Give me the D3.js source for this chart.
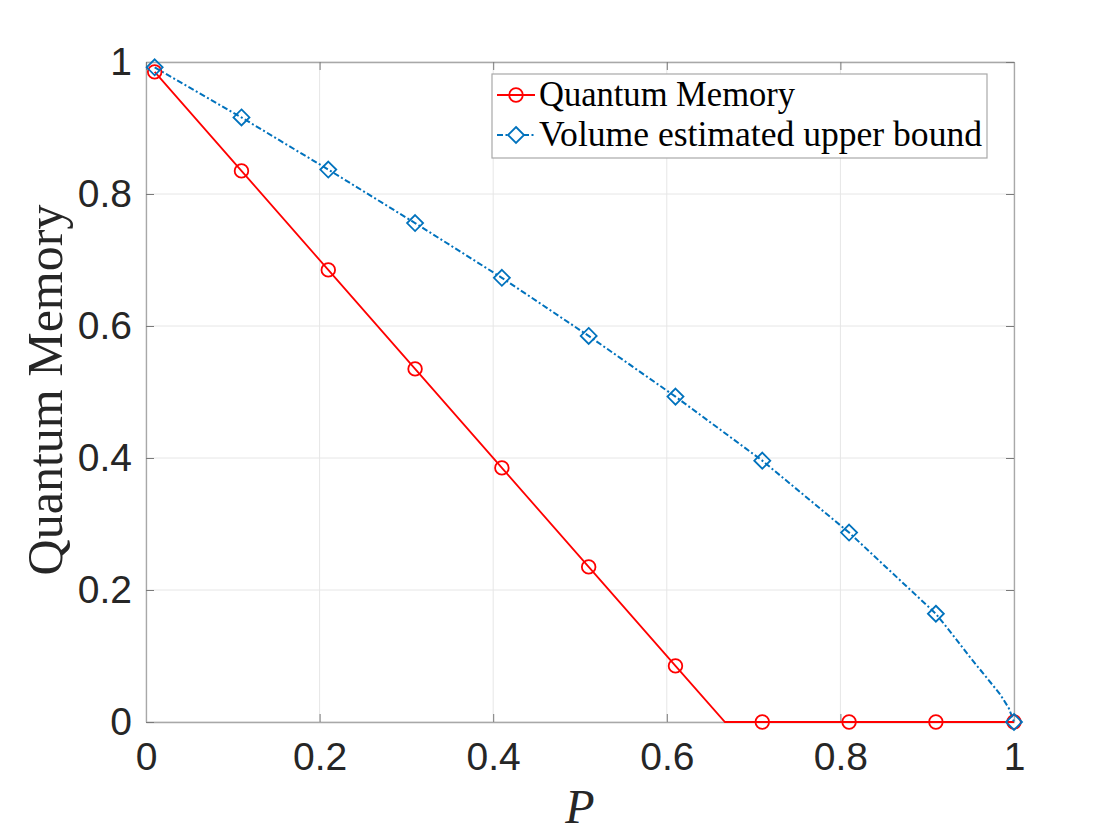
<!DOCTYPE html>
<html>
<head>
<meta charset="utf-8">
<script src="https://cdn.jsdelivr.net/npm/d3@7"></script>
<style>
  body { margin: 0; background: #fff; }
</style>
</head>
<body>
<div id="canvas"></div>
<script>
// tick values
const xTicks = [0, 0.2, 0.4, 0.6, 0.8, 1];
const yTicks = [0, 0.2, 0.4, 0.6, 0.8, 1];

// Quantum Memory (red) - markers
const qmMarkerP = [0.01, 0.11, 0.21, 0.31, 0.41, 0.51, 0.61, 0.71, 0.81, 0.91, 1.0];
const qmMarkerVal = [0.985, 0.835, 0.685, 0.535, 0.385, 0.235, 0.085, 0, 0, 0, 0];
// Quantum Memory line (includes the kink where it hits zero)
const qmLineP = [0.01, 0.11, 0.21, 0.31, 0.41, 0.51, 0.61, 0.667, 0.71, 0.81, 0.91, 1.0];
const qmLineVal = [0.985, 0.835, 0.685, 0.535, 0.385, 0.235, 0.085, 0, 0, 0, 0, 0];

// Volume estimated upper bound (blue) - markers
const ubMarkerP = [0.01, 0.11, 0.21, 0.31, 0.41, 0.51, 0.61, 0.71, 0.81, 0.91, 1.0];
const ubMarkerVal = [0.992, 0.916, 0.837, 0.756, 0.673, 0.585, 0.493, 0.396, 0.287, 0.164, 0];
// line, with extra points read along the curved tail
const ubLineP = [0.01, 0.11, 0.21, 0.31, 0.41, 0.51, 0.61, 0.71, 0.81, 0.91, 0.93, 0.95, 0.968, 0.984, 0.994, 1.0];
const ubLineVal = [0.992, 0.916, 0.837, 0.756, 0.673, 0.585, 0.493, 0.396, 0.287, 0.164, 0.131, 0.097, 0.068, 0.042, 0.021, 0];

const legendLabels = ["Quantum Memory", "Volume estimated upper bound"];

const width = 1120;
const height = 840;
const margin = { top: 62, left: 146, bottom: 118, right: 106 };
const iwidth = width - margin.left - margin.right;
const iheight = height - margin.top - margin.bottom;

const svg = d3.select("#canvas").append("svg")
    .attr("width", width)
    .attr("height", height);

const g = svg.append("g").attr("transform", `translate(${margin.left},${margin.top})`);

const x = d3.scaleLinear().domain([0, 1]).range([0, iwidth]);
const y = d3.scaleLinear().domain([0, 1]).range([iheight, 0]);

// grid
g.selectAll(".xgrid").data(xTicks).enter().append("line")
    .attr("x1", d => x(d)).attr("x2", d => x(d))
    .attr("y1", 0).attr("y2", iheight)
    .attr("stroke", "#e6e6e6").attr("stroke-width", 1);
g.selectAll(".ygrid").data(yTicks).enter().append("line")
    .attr("y1", d => y(d)).attr("y2", d => y(d))
    .attr("x1", 0).attr("x2", iwidth)
    .attr("stroke", "#e6e6e6").attr("stroke-width", 1);

// axes with inward ticks
const tickFont = "'Liberation Sans', Arial, sans-serif";

const xAxis = g.append("g")
    .attr("transform", `translate(0,${iheight})`)
    .call(d3.axisBottom(x).tickValues(xTicks).tickSizeInner(-8).tickSizeOuter(0)
        .tickFormat(d3.format("~g")).tickPadding(20));
const yAxis = g.append("g")
    .call(d3.axisLeft(y).tickValues(yTicks).tickSizeInner(-8).tickSizeOuter(0)
        .tickFormat(d3.format("~g")).tickPadding(14));
const xTop = g.append("g")
    .call(d3.axisTop(x).tickValues(xTicks).tickSizeInner(-8).tickSizeOuter(0).tickFormat(""));
const yRight = g.append("g")
    .attr("transform", `translate(${iwidth},0)`)
    .call(d3.axisRight(y).tickValues(yTicks).tickSizeInner(-8).tickSizeOuter(0).tickFormat(""));

[xAxis, yAxis, xTop, yRight].forEach(a => {
    a.select(".domain").attr("stroke", "#a8a8a8").attr("stroke-width", 1.3);
    a.selectAll(".tick line").attr("stroke", "#7a7a7a").attr("stroke-width", 1);
    a.selectAll(".tick text")
        .attr("fill", "#262626")
        .style("font-family", tickFont)
        .style("font-size", "39px");
});
xAxis.selectAll(".tick text").attr("dy", "0.71em");

// red line
const lineGen = d3.line().x(d => x(d[0])).y(d => y(d[1]));
const dashDot = "6,2.5,2,2.5";

g.append("path")
    .datum(d3.zip(qmLineP, qmLineVal))
    .attr("d", lineGen)
    .attr("fill", "none")
    .attr("stroke", "#ff0000")
    .attr("stroke-width", 1.8);

// blue dash-dot line
g.append("path")
    .datum(d3.zip(ubLineP, ubLineVal))
    .attr("d", lineGen)
    .attr("fill", "none")
    .attr("stroke", "#0072bd")
    .attr("stroke-width", 2)
    .attr("stroke-dasharray", dashDot);

// red circles
g.selectAll(".qm").data(d3.zip(qmMarkerP, qmMarkerVal)).enter().append("circle")
    .attr("cx", d => x(d[0]))
    .attr("cy", d => y(d[1]))
    .attr("r", 6.8)
    .attr("fill", "none")
    .attr("stroke", "#ff0000")
    .attr("stroke-width", 1.8);

// blue diamonds
const diamond = (cx, cy, r) => `M${cx},${cy - r}L${cx + r},${cy}L${cx},${cy + r}L${cx - r},${cy}Z`;
g.selectAll(".ub").data(d3.zip(ubMarkerP, ubMarkerVal)).enter().append("path")
    .attr("d", d => diamond(x(d[0]), y(d[1]), 8))
    .attr("fill", "none")
    .attr("stroke", "#0072bd")
    .attr("stroke-width", 1.8);

// axis labels
svg.append("text")
    .attr("transform", "translate(62,390) rotate(-90)")
    .attr("text-anchor", "middle")
    .style("font-family", "'Liberation Serif', 'Times New Roman', serif")
    .style("font-size", "50px")
    .attr("fill", "#262626")
    .text("Quantum Memory");

svg.append("text")
    .attr("x", 580)
    .attr("y", 823)
    .attr("text-anchor", "middle")
    .style("font-family", "'Liberation Serif', 'Times New Roman', serif")
    .style("font-style", "italic")
    .style("font-size", "48px")
    .attr("fill", "#262626")
    .text("P");

// legend
const legend = svg.append("g");
legend.append("rect")
    .attr("x", 492).attr("y", 74)
    .attr("width", 495).attr("height", 84)
    .attr("fill", "#fff")
    .attr("stroke", "#a8a8a8")
    .attr("stroke-width", 1.2);

const rowY = [95, 135];
const legendTextLen = [256, 443];
// row 1
legend.append("line")
    .attr("x1", 497).attr("x2", 535).attr("y1", rowY[0]).attr("y2", rowY[0])
    .attr("stroke", "#ff0000").attr("stroke-width", 1.8);
legend.append("circle")
    .attr("cx", 516).attr("cy", rowY[0]).attr("r", 6.8)
    .attr("fill", "none").attr("stroke", "#ff0000").attr("stroke-width", 1.8);
// row 2
legend.append("line")
    .attr("x1", 497).attr("x2", 535).attr("y1", rowY[1]).attr("y2", rowY[1])
    .attr("stroke", "#0072bd").attr("stroke-width", 2)
    .attr("stroke-dasharray", dashDot);
legend.append("path")
    .attr("d", diamond(516, rowY[1], 8))
    .attr("fill", "#fff").attr("stroke", "#0072bd").attr("stroke-width", 1.8);

legend.selectAll(".lt").data(legendLabels).enter().append("text")
    .attr("x", 539)
    .attr("y", (d, i) => rowY[i] + 11)
    .attr("textLength", (d, i) => legendTextLen[i])
    .attr("lengthAdjust", "spacingAndGlyphs")
    .style("font-family", "'Liberation Serif', 'Times New Roman', serif")
    .style("font-size", "35px")
    .attr("fill", "#000")
    .text(d => d);
</script>
</body>
</html>
